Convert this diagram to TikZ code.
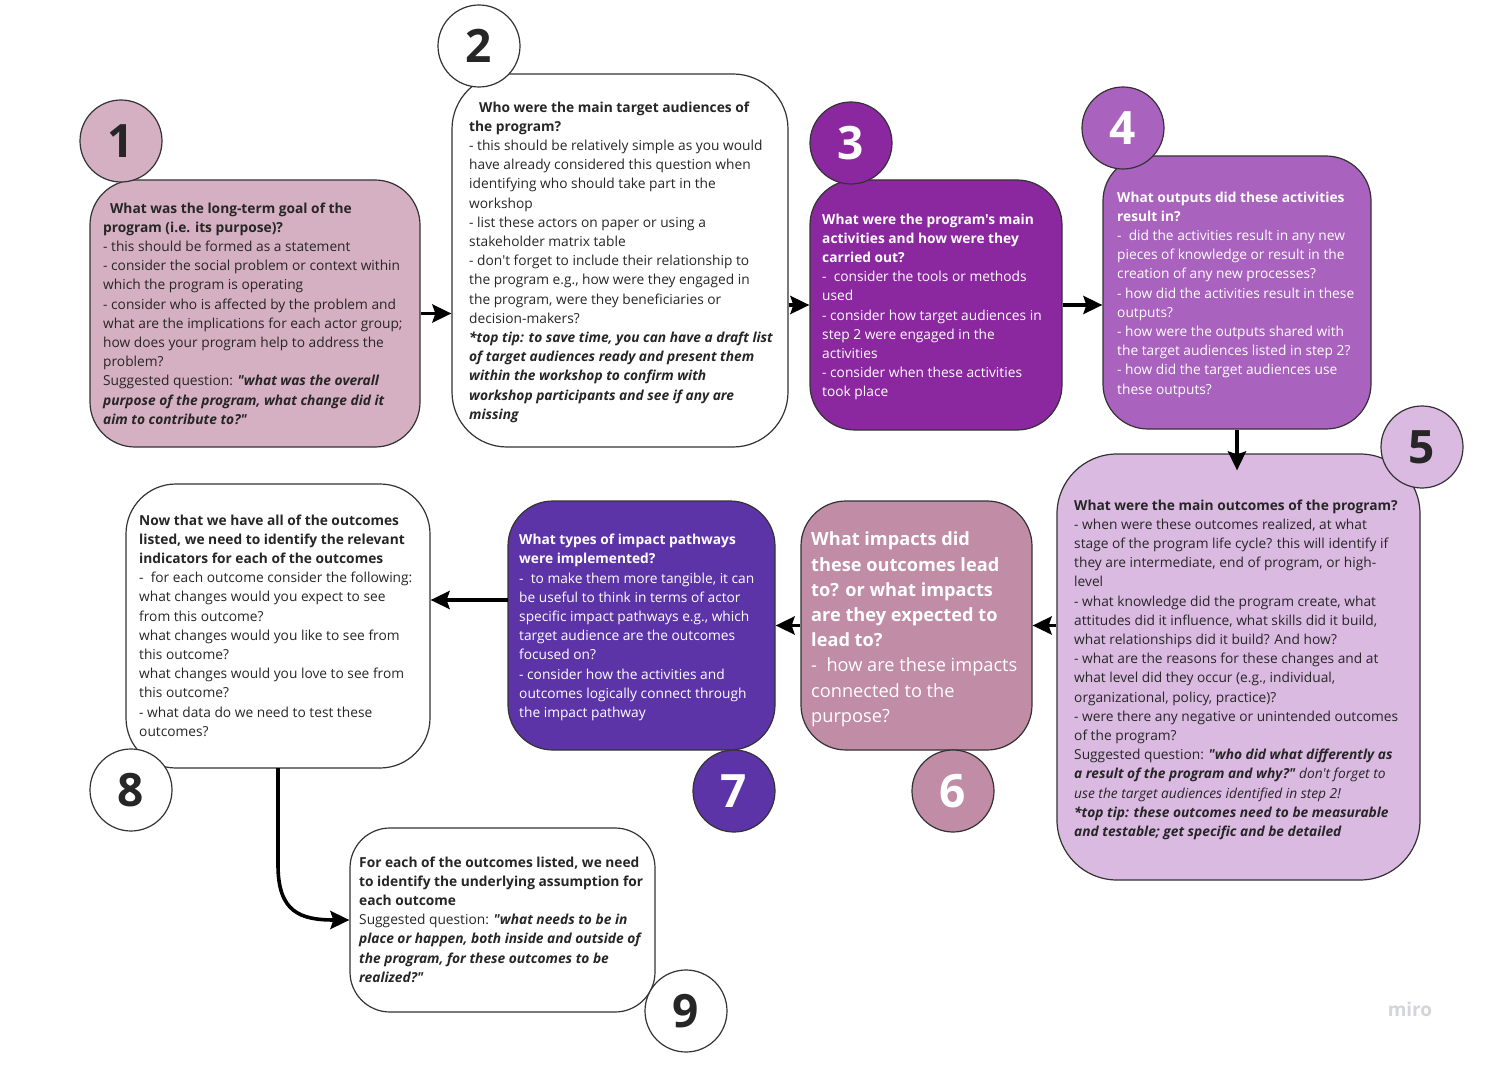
\documentclass[tikz,border=0pt]{standalone}
\usepackage{fontspec}
\setmainfont{Open Sans}[Ligatures=TeXOff]
\usetikzlibrary{arrows.meta}
\definecolor{edge}{HTML}{333333}
\definecolor{ink}{HTML}{262626}
\definecolor{pinkA}{HTML}{D5AFC2}
\definecolor{purpC}{HTML}{8B28A0}
\definecolor{purpD}{HTML}{A962BE}
\definecolor{lilacE}{HTML}{DABAE1}
\definecolor{mauveF}{HTML}{C08CA6}
\definecolor{indigoG}{HTML}{5C34A8}
\definecolor{miroGray}{HTML}{D4D4DC}
\newcommand{\bi}[1]{\textbf{\textit{#1}}}
\begin{document}
\begin{tikzpicture}[x=1pt,y=-1pt,
  box/.style={draw=edge, line width=1.2pt, rounded corners=45pt, inner sep=0pt, minimum width=#1},
  numc/.style={circle, draw=edge, line width=1.2pt, minimum size=82pt, inner sep=0pt,
    font={\fontsize{46}{46}\selectfont\bfseries}},
  txt/.style={anchor=north west, align=left, inner sep=0pt, text=ink,
    font={\fontsize{13.75}{19.2}\selectfont}},
  wtxt/.style={txt, text=white},
  arr/.style={line width=3.6pt, draw=black, -{Stealth[length=19pt,width=18pt,inset=3pt]}}
]
\useasboundingbox[fill=white] (0,0) rectangle (1500,1075);

% boxes
\node[box=330pt, fill=pinkA, minimum height=267pt] (b1) at (255,313.5) {};
\node[box=336pt, fill=white, minimum height=373pt, rounded corners=55pt] (b2) at (620,260.5) {};
\node[box=252pt, fill=purpC, minimum height=250pt] (b3) at (936,305) {};
\node[box=268pt, fill=purpD, minimum height=273pt] (b4) at (1237,292.5) {};
\node[box=363pt, fill=lilacE, minimum height=426pt, rounded corners=60pt] (b5) at (1238.5,667) {};
\node[box=231pt, fill=mauveF, minimum height=249pt] (b6) at (916.5,625.5) {};
\node[box=267pt, fill=indigoG, minimum height=249pt] (b7) at (641.5,625.5) {};
\node[box=304pt, fill=white, minimum height=284pt, rounded corners=50pt] (b8) at (278,626) {};
\node[box=305pt, fill=white, minimum height=184pt, rounded corners=40pt] (b9) at (502.5,920) {};

% number circles
\node[numc, fill=pinkA, text=ink] (n1) at (121,141) {1};
\node[numc, fill=white, text=ink] (n2) at (479,46) {2};
\node[numc, fill=purpC, text=white] (n3) at (851,143) {3};
\node[numc, fill=purpD, text=white] (n4) at (1123,128) {4};
\node[numc, fill=lilacE, text=ink] (n5) at (1422,447) {5};
\node[numc, fill=mauveF, text=white] (n6) at (953,791) {6};
\node[numc, fill=indigoG, text=white] (n7) at (734,791) {7};
\node[numc, fill=white, text=ink] (n8) at (131,790) {8};
\node[numc, fill=white, text=ink] (n9) at (686,1011) {9};

% texts
\node[txt] (t1) at (103,199.5) {\strut\hspace{7pt}\textbf{What was the long-term goal of the}\\
\textbf{program (i.e. its purpose)?}\\
- this should be formed as a statement\\
- consider the social problem or context within\\
which the program is operating\\
- consider who is affected by the problem and\\
what are the implications for each actor group;\\
how does your program help to address the\\
problem?\\
Suggested question: \bi{"what was the overall}\\
\bi{purpose of the program, what change did it}\\
\bi{aim to contribute to?"}};

\node[txt] (t2) at (469,98.5) {\strut\hspace{10pt}\textbf{Who were the main target audiences of}\\
\textbf{the program?}\\
- this should be relatively simple as you would\\
have already considered this question when\\
identifying who should take part in the\\
workshop\\
- list these actors on paper or using a\\
stakeholder matrix table\\
- don't forget to include their relationship to\\
the program e.g., how were they engaged in\\
the program, were they beneficiaries or\\
decision-makers?\\
\bi{*top tip: to save time, you can have a draft list}\\
\bi{of target audiences ready and present them}\\
\bi{within the workshop to confirm with}\\
\bi{workshop participants and see if any are}\\
\bi{missing}};

\node[wtxt] (t3) at (822,210.5) {\strut\textbf{What were the program's main}\\
\textbf{activities and how were they}\\
\textbf{carried out?}\\
- \ consider the tools or methods\\
used\\
- consider how target audiences in\\
step 2 were engaged in the\\
activities\\
- consider when these activities\\
took place};

\node[wtxt] (t4) at (1117,188.5) {\strut\textbf{What outputs did these activities}\\
\textbf{result in?}\\
- \ did the activities result in any new\\
pieces of knowledge or result in the\\
creation of any new processes?\\
- how did the activities result in these\\
outputs?\\
- how were the outputs shared with\\
the target audiences listed in step 2?\\
- how did the target audiences use\\
these outputs?};

\node[txt] (t5) at (1074,496.5) {\strut\textbf{What were the main outcomes of the program?}\\
- when were these outcomes realized, at what\\
stage of the program life cycle? this will identify if\\
they are intermediate, end of program, or high-\\
level\\
- what knowledge did the program create, what\\
attitudes did it influence, what skills did it build,\\
what relationships did it build? And how?\\
- what are the reasons for these changes and at\\
what level did they occur (e.g., individual,\\
organizational, policy, practice)?\\
- were there any negative or unintended outcomes\\
of the program?\\
Suggested question: \bi{"who did what differently as}\\
\bi{a result of the program and why?"}\textit{ don't forget to}\\
\textit{use the target audiences identified in step 2!}\\
\bi{*top tip: these outcomes need to be measurable}\\
\bi{and testable; get specific and be detailed}};

\node[wtxt, font={\fontsize{18.2}{25.2}\selectfont}] (t6) at (811,528) {\strut\textbf{What impacts did}\\
\textbf{these outcomes lead}\\
\textbf{to? or what impacts}\\
\textbf{are they expected to}\\
\textbf{lead to?}\\
- \ how are these impacts\\
connected to the\\
purpose?};

\node[wtxt] (t7) at (519,531) {\strut\textbf{What types of impact pathways}\\
\textbf{were implemented?}\\
- \ to make them more tangible, it can\\
be useful to think in terms of actor\\
specific impact pathways e.g., which\\
target audience are the outcomes\\
focused on?\\
- consider how the activities and\\
outcomes logically connect through\\
the impact pathway};

\node[txt] (t8) at (139,511.5) {\strut\textbf{Now that we have all of the outcomes}\\
\textbf{listed, we need to identify the relevant}\\
\textbf{indicators for each of the outcomes}\\
- \ for each outcome consider the following:\\
what changes would you expect to see\\
from this outcome?\\
what changes would you like to see from\\
this outcome?\\
what changes would you love to see from\\
this outcome?\\
- what data do we need to test these\\
outcomes?};

\node[txt] (t9) at (359,853.5) {\strut\textbf{For each of the outcomes listed, we need}\\
\textbf{to identify the underlying assumption for}\\
\textbf{each outcome}\\
Suggested question: \bi{"what needs to be in}\\
\bi{place or happen, both inside and outside of}\\
\bi{the program, for these outcomes to be}\\
\bi{realized?"}};

% connectors
\draw[arr] (b1.east) -- (b1.east -| b2.west);
\draw[arr] (b2.east |- b3.west) -- (b3.west);
\draw[arr] (b3.east) -- (b3.east -| b4.west);
\draw[arr, shorten >=-17pt] (b4.south) -- (b4.south |- b5.north);
\draw[arr] (b6.east -| b5.west) -- (b6.east);
\draw[arr] (b6.west) -- (b6.west -| b7.east);
\coordinate (a7) at (508,600);
\draw[arr] (a7) -- (a7 -| b8.east);
\coordinate (a8) at (278,768);
\coordinate (a8b) at (278,865);
\draw[arr] (a8) -- (a8b) .. controls (278,912) and (300,920) .. (b9.west);

\node[text=miroGray, font={\fontsize{19}{19}\selectfont\bfseries}] (miro) at (1410,1009) {miro};
\end{tikzpicture}
\end{document}
